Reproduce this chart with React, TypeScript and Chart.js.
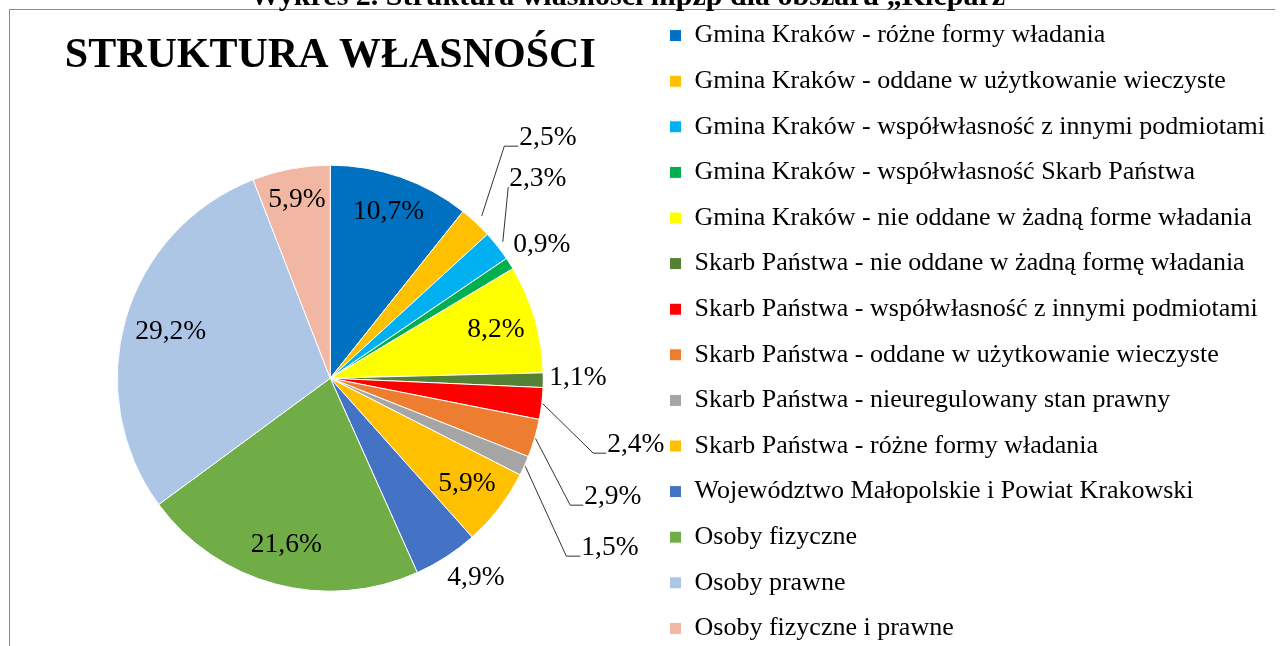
import React, { useEffect, useRef } from 'react';
import { Chart, registerables } from 'chart.js';

Chart.register(...registerables);

const categories = [
  'Gmina Kraków - różne formy władania',
  'Gmina Kraków - oddane w użytkowanie wieczyste',
  'Gmina Kraków - współwłasność z innymi podmiotami',
  'Gmina Kraków - współwłasność Skarb Państwa',
  'Gmina Kraków - nie oddane w żadną forme władania',
  'Skarb Państwa - nie oddane w żadną formę władania',
  'Skarb Państwa - współwłasność z innymi podmiotami',
  'Skarb Państwa - oddane w użytkowanie wieczyste',
  'Skarb Państwa - nieuregulowany stan prawny',
  'Skarb Państwa - różne formy władania',
  'Województwo Małopolskie i Powiat Krakowski',
  'Osoby fizyczne',
  'Osoby prawne',
  'Osoby fizyczne i prawne',
];

const shares = [10.7, 2.5, 2.3, 0.9, 8.2, 1.1, 2.4, 2.9, 1.5, 5.9, 4.9, 21.6, 29.2, 5.9];

const sliceColors = [
  '#0070C0', '#FFC000', '#00B0F0', '#00B050', '#FFFF00', '#548235', '#FF0000',
  '#ED7D31', '#A5A5A5', '#FFC000', '#4472C4', '#70AD47', '#AEC6E6', '#F1B7A3',
];

const chartTitle = 'STRUKTURA WŁASNOŚCI';
const pageCaption = 'Wykres 2. Struktura własności mpzp dla obszaru „Kleparz”';

// label placement (style): inside -> radial fraction; otherwise offset of text left/middle from slice edge midpoint
const labelPlacement: any[] = [
  { inside: 0.83 },
  { dx: 43.7, dy: -84.3, gap: 9, elbow: 14 },
  { dx: 11.9, dy: -66.9, gap: 7, elbow: 0 },
  { dx: 3.5, dy: -18.3 },
  { inside: 0.81 },
  { dx: 6, dy: -2 },
  { dx: 65.5, dy: 41.6, gap: 1, elbow: 13 },
  { dx: 49.6, dy: 58.9, gap: 1, elbow: 13 },
  { dx: 56.9, dy: 82.3, gap: 1, elbow: 14 },
  { inside: 0.81 },
  { dx: 1.2, dy: 21.2 },
  { inside: 0.81 },
  { inside: 0.78 },
  { inside: 0.85 },
];

const SERIF = "'Liberation Serif', 'Times New Roman', serif";

const fmt = (v: number) => v.toFixed(1).replace('.', ',') + '%';

const framePlugin = {
  id: 'frame',
  beforeDraw(chart: any) {
    const ctx = chart.ctx;
    ctx.save();
    ctx.fillStyle = '#ffffff';
    ctx.fillRect(0, 0, chart.width, chart.height);
    ctx.strokeStyle = '#8a8a8a';
    ctx.lineWidth = 1;
    ctx.strokeRect(9.5, 9.5, chart.width + 200, chart.height + 200);
    ctx.restore();
  },
};

const labelPlugin = {
  id: 'sliceLabels',
  afterDatasetsDraw(chart: any) {
    const ctx = chart.ctx;
    const meta = chart.getDatasetMeta(0);
    ctx.save();
    ctx.font = `27.5px ${SERIF}`;
    ctx.fillStyle = '#000';
    ctx.strokeStyle = '#333333';
    ctx.lineWidth = 1;
    ctx.textBaseline = 'middle';
    meta.data.forEach((arc: any, i: number) => {
      const p = arc.getProps(['x', 'y', 'startAngle', 'endAngle', 'outerRadius'], true);
      const mid = (p.startAngle + p.endAngle) / 2;
      const c = Math.cos(mid);
      const s = Math.sin(mid);
      const text = fmt(shares[i]);
      const pl = labelPlacement[i];
      if (pl.inside != null) {
        ctx.textAlign = 'center';
        ctx.fillText(text, p.x + c * p.outerRadius * pl.inside, p.y + s * p.outerRadius * pl.inside);
      } else {
        const ex = p.x + c * p.outerRadius;
        const ey = p.y + s * p.outerRadius;
        const tl = ex + pl.dx;
        const tm = ey + pl.dy;
        ctx.textAlign = 'left';
        ctx.fillText(text, tl, tm);
        if (pl.elbow != null) {
          const sx = p.x + c * (p.outerRadius + pl.gap);
          const sy = p.y + s * (p.outerRadius + pl.gap);
          const ly = tm + 8;
          ctx.beginPath();
          ctx.moveTo(sx, sy);
          ctx.lineTo(tl - 1 - pl.elbow, ly);
          ctx.lineTo(tl - 1, ly);
          ctx.stroke();
        }
      }
    });
    ctx.restore();
  },
};

export default function App() {
  const ref = useRef<HTMLCanvasElement | null>(null);

  useEffect(() => {
    if (!ref.current) return;
    const chart = new Chart(ref.current, {
      type: 'pie',
      data: {
        labels: categories,
        datasets: [
          {
            data: shares,
            backgroundColor: sliceColors,
            borderColor: '#ffffff',
            borderWidth: 1,
            radius: 213,
          } as any,
        ],
      },
      options: {
        responsive: false,
        animation: false,
        devicePixelRatio: 1,
        layout: { padding: { left: 10.6, top: 3, right: 0, bottom: 0 } },
        plugins: {
          title: {
            display: true,
            text: chartTitle,
            align: 'center',
            fullSize: false,
            color: '#000',
            font: { family: SERIF, size: 42, weight: 'bold' },
            padding: { top: 28, bottom: 0 },
          },
          legend: {
            display: true,
            position: 'right',
            align: 'start',
            maxWidth: 633.6,
            labels: {
              color: '#000',
              font: { family: SERIF, size: 26 },
              boxWidth: 12,
              boxHeight: 12,
              padding: 19.6,
            },
          } as any,
          tooltip: { enabled: false },
        },
      },
      plugins: [framePlugin, labelPlugin],
    });
    return () => chart.destroy();
  }, []);

  return (
    <div
      style={{
        position: 'absolute',
        left: 0,
        top: 0,
        width: 1285,
        height: 646,
        overflow: 'hidden',
        background: '#fff',
      }}
    >
      <canvas ref={ref} width={1275} height={675} style={{ position: 'absolute', left: 0, top: 0 }} />
      <div
        style={{
          position: 'absolute',
          left: 0,
          top: -20,
          width: 1270,
          textAlign: 'center',
          fontFamily: SERIF,
          fontWeight: 'bold',
          fontSize: 30,
          lineHeight: '29px',
          whiteSpace: 'nowrap',
          color: '#000',
        }}
      >
        {pageCaption}
      </div>
    </div>
  );
}
